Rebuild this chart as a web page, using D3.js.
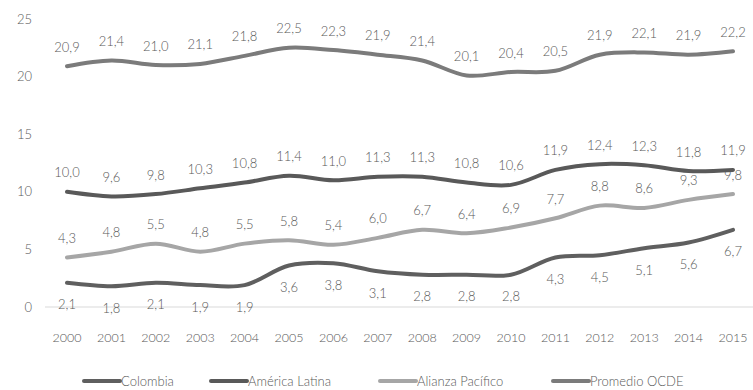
<!DOCTYPE html>
<html><head><meta charset="utf-8">
<script src="https://cdn.jsdelivr.net/npm/d3@7"></script>
<style>body{margin:0;background:#fff;} text{font-family:Lato,"Open Sans",sans-serif;font-weight:300;}</style>
</head><body><svg id="c" width="753" height="390"></svg>
<script>
const years = [2000,2001,2002,2003,2004,2005,2006,2007,2008,2009,2010,2011,2012,2013,2014,2015];
const colombia = [2.1,1.8,2.1,1.9,1.9,3.6,3.8,3.1,2.8,2.8,2.8,4.3,4.5,5.1,5.6,6.7];
const americaLatina = [10.0,9.6,9.8,10.3,10.8,11.4,11.0,11.3,11.3,10.8,10.6,11.9,12.4,12.3,11.8,11.9];
const alianzaPacifico = [4.3,4.8,5.5,4.8,5.5,5.8,5.4,6.0,6.7,6.4,6.9,7.7,8.8,8.6,9.3,9.8];
const promedioOCDE = [20.9,21.4,21.0,21.1,21.8,22.5,22.3,21.9,21.4,20.1,20.4,20.5,21.9,22.1,21.9,22.2];
const yTicks = [0,5,10,15,20,25];
const seriesNames = ["Colombia","América Latina","Alianza Pacífico","Promedio OCDE"];

const series = [
  {name:seriesNames[0], values:colombia, color:"#5f5f5f", below:true},
  {name:seriesNames[1], values:americaLatina, color:"#595959", below:false},
  {name:seriesNames[2], values:alianzaPacifico, color:"#a6a6a6", below:false},
  {name:seriesNames[3], values:promedioOCDE, color:"#7b7b7b", below:false}
];

const svg = d3.select("#c");
const x = d3.scalePoint().domain(years).range([67,733]);
const y = d3.scaleLinear().domain([0,25]).range([307,19]);
const txt = "#595959";

svg.append("line").attr("x1",45).attr("x2",753).attr("y1",y(0)).attr("y2",y(0))
  .attr("stroke","#d9d9d9").attr("stroke-width",1);

svg.append("g").selectAll("text").data(yTicks).join("text")
  .attr("x",32).attr("y",d=>y(d)).attr("dy","0.35em").attr("text-anchor","end")
  .attr("font-size",13).attr("fill",txt).text(d=>d);

svg.append("g").selectAll("text").data(years).join("text")
  .attr("x",d=>x(d)).attr("y",338).attr("dy","0.35em").attr("text-anchor","middle")
  .attr("font-size",12.5).attr("fill",txt).text(d=>d);

const line = d3.line().x((d,i)=>x(years[i])).y(d=>y(d)).curve(d3.curveCatmullRom.alpha(0.5));
const fmt = v => v.toFixed(1).replace(".",",");

series.forEach(s=>{
  svg.append("path").datum(s.values).attr("d",line).attr("fill","none")
    .attr("stroke",s.color).attr("stroke-width",4).attr("stroke-linecap","round");
});
series.forEach(s=>{
  svg.append("g").selectAll("text").data(s.values).join("text")
    .attr("x",(d,i)=>x(years[i])).attr("y",d=>y(d)+(s.below?22:-19)).attr("dy","0.35em")
    .attr("text-anchor","middle").attr("font-size",13).attr("fill",txt).text(fmt);
});

const legX = [84,211,380,553];
const lg = svg.append("g").selectAll("g").data(series).join("g")
  .attr("transform",(d,i)=>`translate(${legX[i]},381)`);
lg.append("line").attr("x1",0).attr("x2",36).attr("y1",0).attr("y2",0)
  .attr("stroke",d=>d.color).attr("stroke-width",4).attr("stroke-linecap","round");
lg.append("text").attr("x",37).attr("y",0).attr("dy","0.35em").attr("font-size",13)
  .attr("fill",txt).text(d=>d.name);
</script></body></html>
